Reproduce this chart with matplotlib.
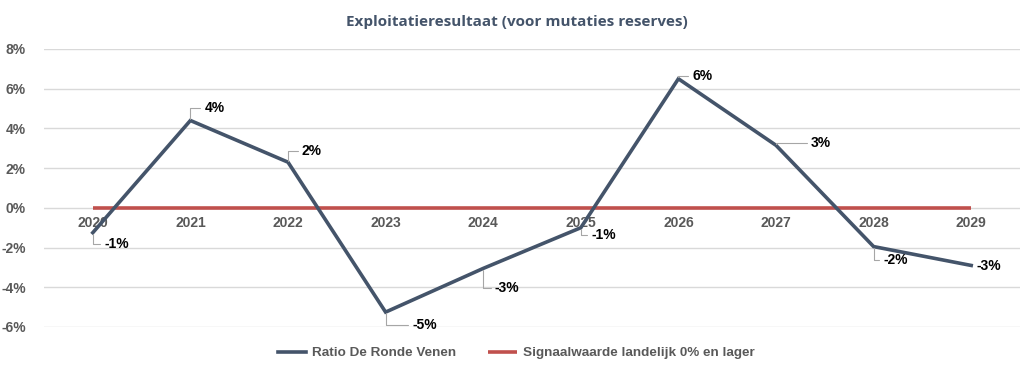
import matplotlib
matplotlib.use("Agg")
import matplotlib.pyplot as plt

years = ["2020", "2021", "2022", "2023", "2024", "2025", "2026", "2027", "2028", "2029"]
ratio = [-1.25, 4.4, 2.3, -5.25, -3.05, -1.0, 6.5, 3.15, -1.95, -2.9]
labels = ["-1%", "4%", "2%", "-5%", "-3%", "-1%", "6%", "3%", "-2%", "-3%"]
signal = [0, 0, 0, 0, 0, 0, 0, 0, 0, 0]
yticks = [-6, -4, -2, 0, 2, 4, 6, 8]

# label offsets (pixels)
offsets = [(24, -11), (24, 12), (24, 11), (39, -13), (24, -20),
           (23, -7), (24, 3), (45, 2), (22, -13), (18, -1)]
leader = [True, True, True, True, True, True, True, True, True, False]

W, H = 1035, 373
fig = plt.figure(figsize=(W / 100, H / 100), dpi=100)
ax = fig.add_axes([44 / W, (H - 327) / H, (1020 - 44) / W, (327 - 49) / H])

x = list(range(len(years)))
ax.set_xlim(-0.5, len(years) - 0.5)
ax.set_ylim(-6, 8)

for t in yticks:
    ax.axhline(t, color="#D9D9D9", lw=1.0, zorder=0)

ax.plot(x, signal, color="#C0504D", lw=2.6, solid_capstyle="butt", zorder=2,
        label="Signaalwaarde landelijk 0% en lager")
ax.plot(x, ratio, color="#44546A", lw=2.6, solid_joinstyle="miter", zorder=3,
        label="Ratio De Ronde Venen")

for s in ax.spines.values():
    s.set_visible(False)
ax.set_xticks([])
ax.set_yticks(yticks)
ax.set_yticklabels([f"{t}%" for t in yticks], fontsize=10, fontweight="bold",
                   color="#595959", family="Liberation Sans")
ax.tick_params(axis="y", length=0, pad=13)

for xi, yr in zip(x, years):
    ax.annotate(yr, (xi, 0), xytext=(0, -8), textcoords="offset pixels",
                ha="center", va="top", fontsize=10, fontweight="bold",
                color="#595959", family="Liberation Sans", zorder=1)

for xi, v, lab, off, ld in zip(x, ratio, labels, offsets, leader):
    kw = {}
    if ld:
        kw["arrowprops"] = dict(arrowstyle="-", color="#A6A6A6", lw=0.8,
                                shrinkA=1, shrinkB=1,
                                connectionstyle="angle,angleA=0,angleB=90,rad=0")
    ax.annotate(lab, (xi, v), xytext=off, textcoords="offset pixels",
                ha="center", va="center", fontsize=10, fontweight="bold",
                color="black", family="Liberation Sans", zorder=4, **kw)

fig.text(517 / W, 1 - 22 / H, "Exploitatieresultaat (voor mutaties reserves)",
         ha="center", va="center", fontsize=11, fontweight="bold",
         color="#44546A", family="Open Sans")

handles, lbls = ax.get_legend_handles_labels()
order = [1, 0]
leg = fig.legend([handles[i] for i in order], [lbls[i] for i in order],
                 loc="center", bbox_to_anchor=(516 / W, 1 - 353 / H), ncol=2,
                 frameon=False, handlelength=2.1, handletextpad=0.45,
                 columnspacing=2.4,
                 prop=dict(family="Liberation Sans", weight="bold", size=9.7))
for t in leg.get_texts():
    t.set_color("#595959")

fig.savefig("out.png", dpi=100)
